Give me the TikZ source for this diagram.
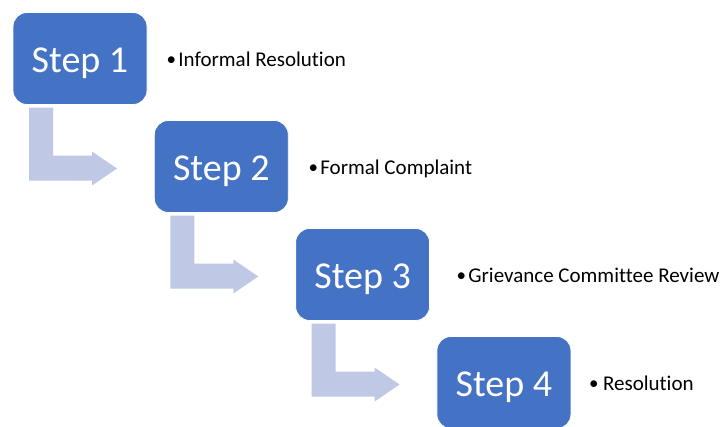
\documentclass[tikz,border=0pt]{standalone}
\usepackage{fontspec}
\setmainfont{Carlito}[Ligatures=NoCommon]

\definecolor{boxblue}{HTML}{4472C4}
\definecolor{arrowblue}{HTML}{BFC9E5}

\tikzset{
  stepbox/.style={fill=boxblue, draw=white, line width=0.8pt, rounded corners=14pt,
    minimum width=134pt, minimum height=92pt, outer sep=0pt,
    text=white, font=\fontsize{38}{40}\selectfont, text height=27pt, text depth=0pt},
  desc/.style={inner sep=0pt, font=\fontsize{21}{24}\selectfont, anchor=base west},
  bentarrow/.style={fill=arrowblue}
}
\newcommand{\stepdot}{\raisebox{0.5pt}{\fontsize{19}{19}\selectfont\textbullet}}

\begin{document}
\begin{tikzpicture}[x=1pt,y=-1pt]

  \useasboundingbox (0,0) rectangle (726,426);

  % step boxes
  \foreach \i in {1,...,4}
    \node[stepbox] (step\i) at ({80+141.3*(\i-1)},{58.5+108*(\i-1)}) {Step \i};

  % bent arrows between the steps
  \foreach \i in {1,2,3}
    \fill[bentarrow, shift={(step\i.south west)}] (16,3) -- (40,3) -- (40,51) -- (79,51)
      -- (79,47) -- (104,64) -- (79,81) -- (79,76) -- (16,76) -- cycle;

  % bullet texts
  \foreach \i/\txt/\gap/\sep in {1/Informal Resolution/19.5/2.2, 2/Formal Complaint/20.2/2.2,
      3/Grievance Committee Review/26.9/2.2, 4/Resolution/18/4.5}
    \node[desc] (desc\i) at ([shift={(\gap,7.5)}]step\i.east) {\stepdot\hspace{\sep pt}\txt};

\end{tikzpicture}
\end{document}
